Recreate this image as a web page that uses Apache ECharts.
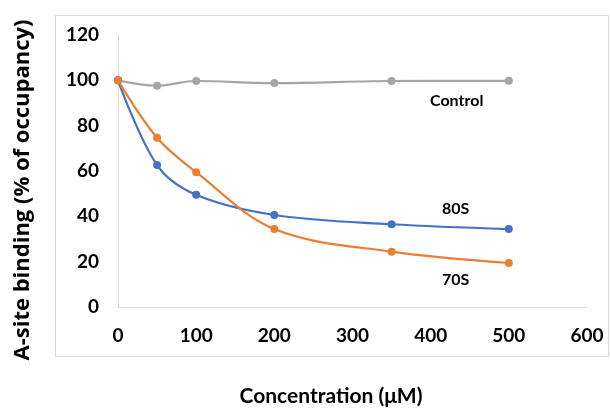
<!DOCTYPE html>
<html><head><meta charset="utf-8">
<script src="https://cdn.jsdelivr.net/npm/echarts@6/dist/echarts.min.js"></script>
<style>html,body{margin:0;padding:0;background:#fff}#c{width:610px;height:410px}</style>
</head><body><div id="c"></div>
<script>
const concentrations = [0, 50, 100, 200, 350, 500];
const control = [100, 97.6, 99.7, 98.8, 99.7, 99.8];
const s80 = [100, 62.6, 49.5, 40.6, 36.5, 34.4];
const s70 = [100, 74.7, 59.5, 34.4, 24.4, 19.4];
const yTicks = [0, 20, 40, 60, 80, 100, 120];
const xTicks = [0, 100, 200, 300, 400, 500, 600];
const xTitle = 'Concentration (\u03bcM)';
const yTitle = 'A-site binding (% of occupancy)';

const pairs = v => concentrations.map((c, i) => [c, v[i]]);
const FONT = 'Lato';
const chart = echarts.init(document.getElementById('c'));
const mk = (name, data, color) => ({
  name, type: 'line', data: pairs(data), smooth: 0.35,
  symbol: 'circle', symbolSize: 8,
  lineStyle: { color, width: 2.2 }, itemStyle: { color },
  z: name === 'Control' ? 2 : 3
});
chart.setOption({
  animation: false,
  grid: { left: 118, top: 35, right: 23, bottom: 103, containLabel: false, outerBoundsMode: 'none' },
  xAxis: {
    type: 'value', min: xTicks[0], max: xTicks[xTicks.length - 1], interval: 100,
    axisLine: { lineStyle: { color: '#d9d9d9', width: 1 } },
    axisTick: { show: false }, splitLine: { show: false },
    axisLabel: { color: '#000', fontFamily: FONT, fontWeight: 'bold', fontSize: 19, margin: 19 }
  },
  yAxis: {
    type: 'value', min: yTicks[0], max: yTicks[yTicks.length - 1], interval: 20,
    axisLine: { show: true, lineStyle: { color: '#d9d9d9', width: 1 } },
    axisTick: { show: false }, splitLine: { show: false },
    axisLabel: { color: '#000', fontFamily: FONT, fontWeight: 'bold', fontSize: 19, margin: 19 }
  },
  graphic: [
    { type: 'rect', shape: { x: 55.5, y: 15.5, width: 553, height: 341 }, style: { fill: 'none', stroke: '#d9d9d9', lineWidth: 1 }, z: -1 },
    { type: 'text', x: 23, y: 190, rotation: Math.PI / 2,
      style: { text: yTitle, fontFamily: 'Open Sans', fontWeight: 'bold', fontSize: 22, fill: '#000', align: 'center', verticalAlign: 'middle' } },
    { type: 'text', x: 331, y: 396,
      style: { text: xTitle, fontFamily: FONT, fontWeight: 'bold', fontSize: 21, fill: '#000', align: 'center', verticalAlign: 'middle' } },
    { type: 'text', left: 430, top: 93, style: { text: 'Control', fontFamily: FONT, fontWeight: 'bold', fontSize: 16, fill: '#000' } },
    { type: 'text', left: 442, top: 201, style: { text: '80S', fontFamily: FONT, fontWeight: 'bold', fontSize: 16, fill: '#000' } },
    { type: 'text', left: 442, top: 272, style: { text: '70S', fontFamily: FONT, fontWeight: 'bold', fontSize: 16, fill: '#000' } }
  ],
  series: [
    mk('Control', control, '#a5a5a5'),
    mk('80S', s80, '#4472c4'),
    mk('70S', s70, '#ed7d31')
  ]
});
</script></body></html>
